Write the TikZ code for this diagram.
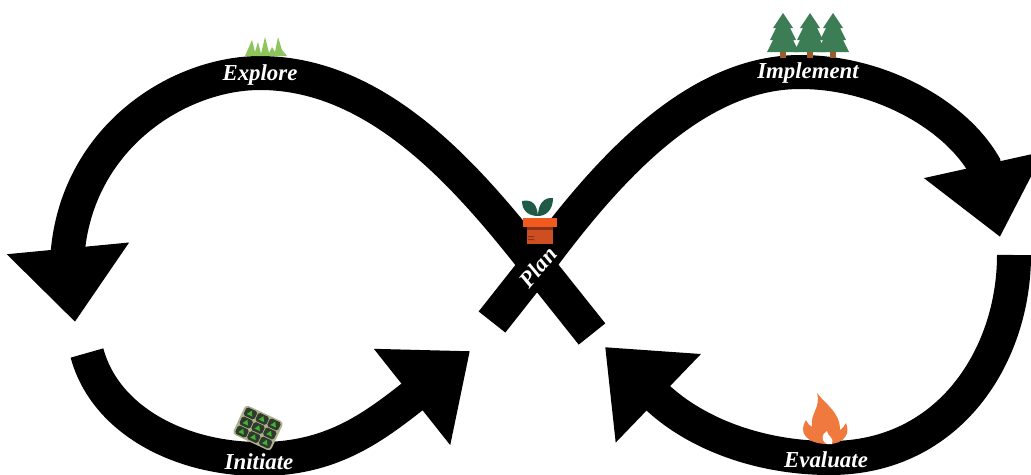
\documentclass[tikz,border=0pt]{standalone}
\usepackage{xcolor}
\usepackage{fontspec}
\setmainfont{Liberation Serif}
\usetikzlibrary{arrows.meta,positioning}
\definecolor{loopblack}{RGB}{0,0,0}
\definecolor{grassgreen}{RGB}{142,196,92}
\definecolor{treegreen}{RGB}{60,125,85}
\definecolor{trunkbrown}{RGB}{160,90,40}
\definecolor{leafgreen}{RGB}{30,90,70}
\definecolor{rimorange}{RGB}{240,90,30}
\definecolor{potorange}{RGB}{205,78,32}
\definecolor{potdark}{RGB}{140,50,25}
\definecolor{flameorange}{RGB}{240,122,62}
\definecolor{traygray}{RGB}{172,178,140}
\definecolor{celldark}{RGB}{48,58,44}
\definecolor{sproutgreen}{RGB}{62,180,50}

\begin{document}
\begin{tikzpicture}[
  x=0.02cm, y=-0.02cm,
  every node/.style={font=\fontsize{13}{14}\selectfont\bfseries\itshape, text=white, inner sep=1pt},
  band/.style={-{Triangle[length=1.48cm,width=2.36cm]}, line width=0.68cm, color=loopblack}
]
  \useasboundingbox (0,0) rectangle (1031,474);

  \coordinate (planleft)  at (592,334);
  \coordinate (planright) at (492,322);
  \coordinate (exploretip) at (75,322);
  \coordinate (implementtip) at (1000,237);
  \coordinate (evalstart) at (1014,255);
  \coordinate (evaltip) at (605,347);
  \coordinate (initstart) at (87,353);
  \coordinate (inittip) at (470,351);

  \draw[band] (planleft) -- (537,265) .. controls (470,180) and (380,73) .. (260,73) .. controls (180,73) and (80,135) .. (68,249) -- (exploretip);
  \draw[band] (planright) -- (537,265) .. controls (600,180) and (690,72) .. (800,72) .. controls (880,72) and (955,115) .. (984,165) -- (implementtip);
  \draw[band] (evalstart) .. controls (1014,355) and (950,458) .. (830,458) .. controls (760,458) and (697,434) .. (658,398) -- (evaltip);
  \draw[band] (initstart) .. controls (105,420) and (180,459) .. (260,459) .. controls (330,459) and (371,429) .. (412,397) -- (inittip);

  % grass
  \fill[grassgreen] (245,56) -- (252,40) -- (255,52) -- (258,42) -- (261,54) -- (265,37) -- (269,53) -- (272,47) -- (275,52) -- (278,37) -- (282,50) -- (287,56) -- cycle;

  % trees
  \foreach \tx in {783,810,833} {
    \fill[trunkbrown] (\tx-3,50) rectangle (\tx+3,58);
    \fill[treegreen] (\tx,13) -- (\tx+10,28) -- (\tx+7,28) -- (\tx+13,40) -- (\tx+10,40) -- (\tx+16,52) -- (\tx-16,52) -- (\tx-10,40) -- (\tx-13,40) -- (\tx-7,28) -- (\tx-10,28) -- cycle;
  }

  % pot
  \fill[leafgreen] (538,216) .. controls (537,204) and (532,199) .. (522,201) .. controls (522,212) and (530,216) .. (538,216);
  \fill[leafgreen] (538,216) .. controls (538,204) and (544,197) .. (553,198) .. controls (553,210) and (546,216) .. (538,216);
  \fill[potorange] (527,227) rectangle (553,244);
  \fill[potdark] (527,227) rectangle (553,230);
  \fill[potdark] (528,236) rectangle (534,237) (528,239) rectangle (534,240);
  \fill[rimorange] (523,218) rectangle (557,227);

  % seed tray
  \begin{scope}[shift={(258,428)}, rotate=-25]
    \fill[traygray, rounded corners=2pt] (-21,-16) rectangle (21,16);
    \foreach \cx in {-13,0,13} {
      \foreach \cy in {-10,0,10} {
        \fill[celldark, rounded corners=1pt] (\cx-6,\cy-4.5) rectangle (\cx+6,\cy+4.5);
        \fill[sproutgreen] (\cx-3,\cy+2) -- (\cx,\cy-3) -- (\cx+3,\cy+2) -- cycle;
      }
    }
  \end{scope}

  % flame
  \fill[flameorange] (817,393) .. controls (826,405) and (840,412) .. (840,430) .. controls (843,428) and (845,425) .. (846,423) .. controls (850,432) and (846,444) .. (828,444) .. controls (806,444) and (798,432) .. (806,420) .. controls (808,424) and (810,426) .. (812,427) .. controls (810,413) and (821,408) .. cycle;
  \fill[white] (827,444) .. controls (820,440) and (822,434) .. (827,431) .. controls (827,436) and (835,438) .. (832,444) -- cycle;

  \node (explore) at (260,75) {Explore};
  \node (implement) at (808,73) {Implement};
  \node[rotate=50] (plan) at (538,267) {Plan};
  \node (initiate) at (259,462) {Initiate};
  \node (evaluate) at (826,460) {Evaluate};
\end{tikzpicture}
\end{document}
